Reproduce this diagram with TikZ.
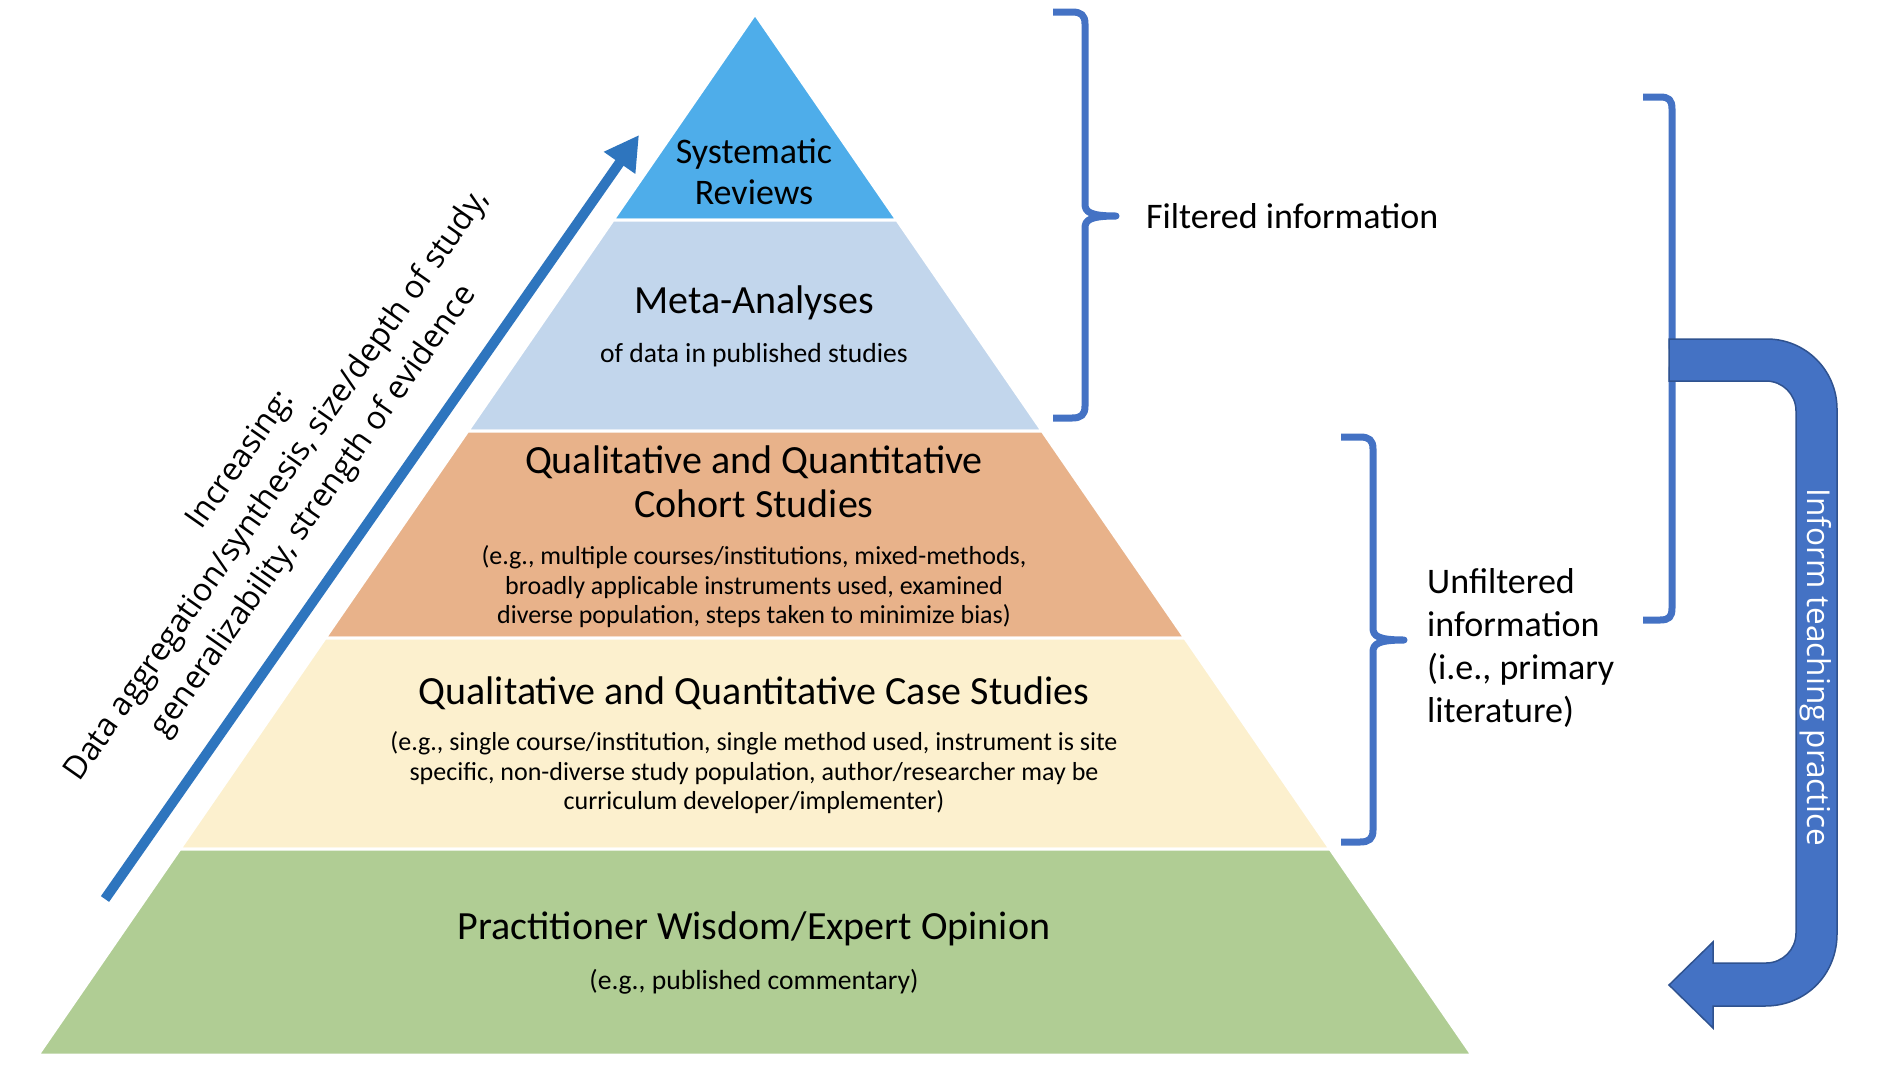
\documentclass[tikz,border=0pt]{standalone}
\usepackage{fontspec}
\setmainfont{Carlito}
\newfontfamily\osans{Open Sans}
\usetikzlibrary{arrows.meta}
\definecolor{sysblue}{RGB}{78,173,234}
\definecolor{metablue}{RGB}{194,214,236}
\definecolor{cohortor}{RGB}{232,178,138}
\definecolor{casecream}{RGB}{252,240,206}
\definecolor{pracgreen}{RGB}{176,205,148}
\definecolor{bracketblue}{RGB}{68,114,196}
\definecolor{arrowblue}{RGB}{46,117,190}
\definecolor{uborder}{RGB}{47,82,143}
\begin{document}
\begin{tikzpicture}[x=1pt,y=-1pt,
  layer/.style={draw=white, line width=3pt},
  brace/.style={draw=bracketblue, line width=7pt, line join=round},
  txt/.style={inner sep=0pt, align=center, text=black},
  big/.style={font={\fontsize{40}{44}\selectfont}},
  mid/.style={font={\fontsize{27.6}{32}\selectfont}},
  small/.style={font={\fontsize{26}{29.5}\selectfont}},
  side/.style={font={\fontsize{36}{43}\selectfont}}]
\useasboundingbox (0,0) rectangle (1880,1072);
\fill[white] (0,0) rectangle (1880,1072);

% pyramid layers
\filldraw[layer, fill=sysblue] (755,14) -- (896.9,220) -- (613.1,220) -- cycle;
\filldraw[layer, fill=metablue] (613.1,220) -- (896.9,220) -- (1042.2,431) -- (467.8,431) -- cycle;
\filldraw[layer, fill=cohortor] (467.8,431) -- (1042.2,431) -- (1184.8,638) -- (325.2,638) -- cycle;
\filldraw[layer, fill=casecream] (325.2,638) -- (1184.8,638) -- (1330.1,849) -- (179.9,849) -- cycle;
\filldraw[layer, fill=pracgreen] (179.9,849) -- (1330.1,849) -- (1472,1055) -- (38,1055) -- cycle;

% layer texts
\node[txt, font={\fontsize{36}{41}\selectfont}] (sysT) at (754,172) {Systematic\\Reviews};
\node[txt, big] (metaT) at (754,302.5) {Meta-Analyses};
\node[txt, mid] (metaS) at (754,355) {of data in published studies};
\node[txt, big] (cohT) at (754,482) {Qualitative and Quantitative\\Cohort Studies};
\node[txt, small] (cohS) at (754,587) {(e.g., multiple courses/institutions, mixed-methods,\\broadly applicable instruments used, examined\\diverse population, steps taken to minimize bias)};
\node[txt, big] (caseT) at (754,693) {Qualitative and Quantitative Case Studies};
\node[txt, small] (caseS) at (754,773) {(e.g., single course/institution, single method used, instrument is site\\specific, non-diverse study population, author/researcher may be\\curriculum developer/implementer)};
\node[txt, big] (pracT) at (754,929) {Practitioner Wisdom/Expert Opinion};
\node[txt, mid] (pracS) at (754,982) {(e.g., published commentary)};

% left increasing arrow
\coordinate (arrTail) at (105,899);
\coordinate (arrTip) at (639,135);
\draw[line width=10pt, draw=arrowblue, -{Triangle[length=34pt,width=36pt]}] (arrTail) -- (arrTip);
\node[txt, rotate=55, font={\osans\fontsize{32}{44.5}\selectfont}] (incT) at (278,486)
  {Increasing:\\Data aggregation/synthesis, size/depth of study,\\generalizability, strength of evidence};

% filtered brace
\draw[brace] (1053,12) -- (1072,12) .. controls (1081,12) and (1085,15) .. (1085,24) -- (1085,204)
  .. controls (1085,212) and (1090,216) .. (1116,216)
  .. controls (1090,216) and (1085,220) .. (1085,228) -- (1085,406)
  .. controls (1085,415) and (1081,418) .. (1072,418) -- (1053,418);
\node[txt, side, anchor=west] (filtT) at (1146,216) {Filtered information};

% unfiltered brace
\draw[brace] (1341,437) -- (1360,437) .. controls (1369,437) and (1373,440) .. (1373,449) -- (1373,628)
  .. controls (1373,636) and (1378,640) .. (1404,640)
  .. controls (1378,640) and (1373,644) .. (1373,652) -- (1373,830)
  .. controls (1373,839) and (1369,842) .. (1360,842) -- (1341,842);
\node[txt, side, anchor=west, align=left] (unfT) at (1427,648) {Unfiltered\\information\\(i.e., primary\\literature)};

% teaching brace
\draw[brace] (1643,97) -- (1660,97) .. controls (1669,97) and (1672,100) .. (1672,109) -- (1672,346)
  .. controls (1672,354) and (1677,358) .. (1700,358)
  .. controls (1677,358) and (1672,362) .. (1672,370) -- (1672,608)
  .. controls (1672,617) and (1669,620) .. (1660,620) -- (1643,620);

% U-turn arrow
\filldraw[fill=bracketblue, draw=uborder, line width=1.5pt]
  (1669,339) -- (1767,339) .. controls (1805.6,339) and (1837,370.4) .. (1837,409)
  -- (1837,934) .. controls (1837,973.7) and (1806.7,1006) .. (1765,1006)
  -- (1713,1006) -- (1713,1028) -- (1669,985) -- (1713,942) -- (1713,963)
  -- (1766,963) .. controls (1782.6,963) and (1796,949.6) .. (1796,933)
  -- (1796,411) .. controls (1796,394.4) and (1782.6,381) .. (1766,381)
  -- (1669,381) -- cycle;
\node[txt, rotate=-90, text=white, font={\osans\fontsize{31.5}{36}\selectfont}] (infT) at (1816,667) {Inform teaching practice};
\end{tikzpicture}
\end{document}
